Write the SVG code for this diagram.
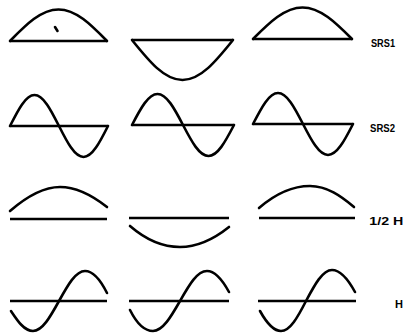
<svg xmlns="http://www.w3.org/2000/svg" width="410" height="334" viewBox="0 0 410 334">
<style>
.w{fill:none;stroke:#000;stroke-width:2.6;stroke-linecap:round;stroke-linejoin:round}
.b{fill:none;stroke:#000;stroke-width:2.4;stroke-linecap:butt}
.t{font-family:"Liberation Sans",Arial,sans-serif;font-weight:bold;font-size:11px;fill:#000}
</style>
<rect width="410" height="334" fill="#fff"/>
<g id="srs1">
<g id="srs1-a"><line class="b" x1="10" y1="41" x2="107" y2="41"/><path class="w" d="M10,41 C26.2,24.5 41,9.5 58.5,9.5 C76,9.5 90.8,24.5 107,41"/><path class="w" d="M55,27 L57.5,31" stroke-width="1.6"/></g>
<g id="srs1-b"><line class="b" x1="132" y1="40" x2="233" y2="40"/><path class="w" d="M132,40 C148.9,61 164.3,80 182.5,80 C200.7,80 216.1,61 233,40"/></g>
<g id="srs1-c"><line class="b" x1="253" y1="39" x2="352" y2="39"/><path class="w" d="M253,39 C269.5,22.5 284.7,7.5 302.5,7.5 C320.3,7.5 335.5,22.5 352,39"/></g>
<text class="t" x="371" y="47.3" textLength="24" lengthAdjust="spacingAndGlyphs">SRS1</text>
</g>
<g id="srs2">
<g id="srs2-a"><line class="b" x1="10" y1="126" x2="108" y2="126"/><path class="w" d="M10,126 C18.2,109.7 25.7,95 34.5,95 C43.3,95 50.8,109.7 59,126 C67.2,142.3 74.7,157 83.5,157 C92.3,157 99.8,142.3 108,126"/></g>
<g id="srs2-b"><line class="b" x1="132" y1="125" x2="234" y2="125"/><path class="w" d="M132,125 C140.5,108.7 148.3,94 157.5,94 C166.7,94 174.5,108.7 183,125 C191.5,141.3 199.3,156 208.5,156 C217.7,156 225.5,141.3 234,125"/></g>
<g id="srs2-c"><line class="b" x1="253" y1="124" x2="353" y2="124"/><path class="w" d="M253,124 C261.4,107.7 269,93 278,93 C287,93 294.7,107.7 303,124 C311.4,140.3 319,155 328,155 C337,155 344.7,140.3 353,124"/></g>
<text class="t" x="370" y="131.7" textLength="25" lengthAdjust="spacingAndGlyphs">SRS2</text>
</g>
<g id="half-h">
<g id="half-h-a"><line class="b" x1="10" y1="219" x2="107" y2="219"/><path class="w" d="M10,211 C25,198 42,187 60,187 C78,187 93,196 107,207"/></g>
<g id="half-h-b"><line class="b" x1="129" y1="218" x2="229" y2="218"/><path class="w" d="M130,226 C145,239 162,247 180,247 C198,247 214,239 229,227"/></g>
<g id="half-h-c"><line class="b" x1="259" y1="218" x2="355" y2="218"/><path class="w" d="M259,208 C274,195 292,186 310,186 C327,186 341,196 354,207"/></g>
<text class="t" x="369.3" y="225.3" textLength="34" lengthAdjust="spacingAndGlyphs">1/2 H</text>
</g>
<g id="h">
<g id="h-a"><line class="b" x1="10" y1="301" x2="107" y2="301"/><path class="w" d="M11,311 C17,320 24,331 33,331 C42.4,331 50.3,316.75 59,301 C67.7,285.25 75.6,271 85,271 C94,271 101,281 107,293"/></g>
<g id="h-b"><line class="b" x1="129" y1="301" x2="229" y2="301"/><path class="w" d="M130,310 C135,320 143,331 153,331 C162.7,331 171,316.75 180,301 C189,285.25 197,271 207,271 C216,271 223,281 229,292"/></g>
<g id="h-c"><line class="b" x1="258" y1="301" x2="356" y2="301"/><path class="w" d="M260,311 C265,320 272,331 281,331 C290,331 298,316.75 306,301 C314.7,284.7 322.6,270 332,270 C341.4,270 349,281 355,292"/></g>
<text class="t" x="395" y="308">H</text>
</g>
<g id="connectors"/>
</svg>
